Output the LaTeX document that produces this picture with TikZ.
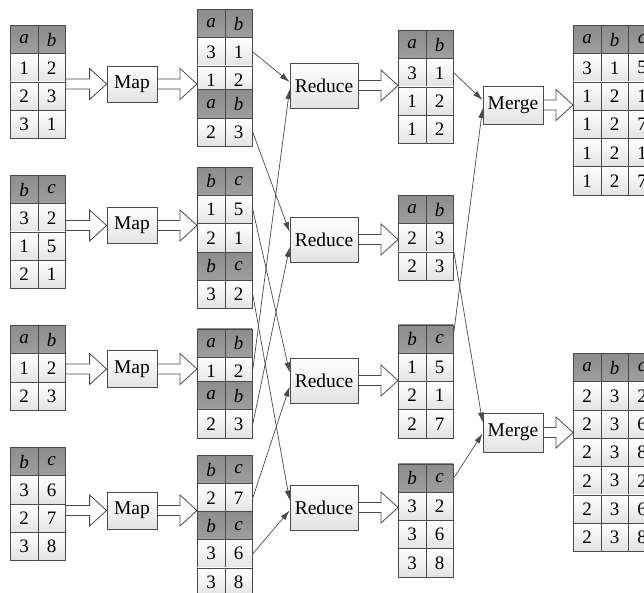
\documentclass[tikz,border=0pt]{standalone}
\usepackage{fontspec}
\setmainfont{Liberation Serif}
\usetikzlibrary{arrows.meta,calc}
\definecolor{edge}{HTML}{4A4A4A}
\tikzset{
 cellbase/.style={draw=edge, line width=0.8pt, minimum width=27.5pt, minimum height=28.3pt, inner sep=0pt, anchor=north west, font=\fontsize{19}{20}\selectfont},
 hd/.style={cellbase, top color=black!45, bottom color=black!38, font=\fontsize{19}{20}\selectfont\itshape},
 dt/.style={cellbase, top color=white, bottom color=black!11},
 proc/.style={draw=edge, line width=0.8pt, top color=white, bottom color=black!11, inner sep=0pt, font=\fontsize{19.5}{20}\selectfont},
 conn/.style={draw=edge, line width=0.7pt, -{Latex[length=10pt,width=6pt]}},
 hollow/.style={draw=edge, line width=0.8pt, fill=white, line join=miter},
}
\newcommand\trow[5]{\foreach \e [count=\i] in {#5} {\node[#2] (#1-\i) at ({#3+(\i-1)*27.5}, #4) {\e};}}
\newcommand\harrow[2]{\draw[hollow] let \p1=(#1), \p2=(#2) in (\x1,\y1+5pt) -- (\x2-17pt,\y1+5pt) -- (\x2-17pt,\y1+15.5pt) -- (\x2,\y1) -- (\x2-17pt,\y1-15.5pt) -- (\x2-17pt,\y1-5pt) -- (\x1,\y1-5pt) -- cycle;}
\begin{document}
\begin{tikzpicture}[x=1pt,y=-1pt]
\useasboundingbox (0,0) rectangle (644,593);
% ---------- input tables ----------
\trow{t1h}{hd}{10}{25}{a,b}
\trow{t1r1}{dt}{10}{53.3}{1,2}
\trow{t1r2}{dt}{10}{81.6}{2,3}
\trow{t1r3}{dt}{10}{109.9}{3,1}
\trow{t2h}{hd}{10}{175}{b,c}
\trow{t2r1}{dt}{10}{203.3}{3,2}
\trow{t2r2}{dt}{10}{231.6}{1,5}
\trow{t2r3}{dt}{10}{259.9}{2,1}
\trow{t3h}{hd}{10}{325}{a,b}
\trow{t3r1}{dt}{10}{353.3}{1,2}
\trow{t3r2}{dt}{10}{381.6}{2,3}
\trow{t4h}{hd}{10}{447}{b,c}
\trow{t4r1}{dt}{10}{475.3}{3,6}
\trow{t4r2}{dt}{10}{503.6}{2,7}
\trow{t4r3}{dt}{10}{531.9}{3,8}
% ---------- map boxes ----------
\node[proc, minimum width=50pt, minimum height=36pt] (map1) at (132,84) {Map};
\node[proc, minimum width=50pt, minimum height=36pt] (map2) at (132,225.5) {Map};
\node[proc, minimum width=50pt, minimum height=37pt] (map3) at (132,369) {Map};
\node[proc, minimum width=50pt, minimum height=37pt] (map4) at (132,510.5) {Map};
% ---------- map outputs ----------
\trow{m1h}{hd}{197}{9}{a,b}
\trow{m1r1}{dt}{197}{37.3}{3,1}
\trow{m1r2}{dt}{197}{65.6}{1,2}
\trow{m1h2}{hd}{197}{89.5}{a,b}
\trow{m1r3}{dt}{197}{117.8}{2,3}
\trow{m2h}{hd}{197}{166.8}{b,c}
\trow{m2r1}{dt}{197}{195.1}{1,5}
\trow{m2r2}{dt}{197}{223.4}{2,1}
\trow{m2h2}{hd}{197}{251.7}{b,c}
\trow{m2r3}{dt}{197}{280}{3,2}
\trow{m3h}{hd}{197}{328.5}{a,b}
\trow{m3r1}{dt}{197}{356.8}{1,2}
\trow{m3h2}{hd}{197}{381}{a,b}
\trow{m3r2}{dt}{197}{409.3}{2,3}
\trow{m4h}{hd}{197}{455}{b,c}
\trow{m4r1}{dt}{197}{483.3}{2,7}
\trow{m4h2}{hd}{197}{511.4}{b,c}
\trow{m4r2}{dt}{197}{539.2}{3,6}
\trow{m4r3}{dt}{197}{567.5}{3,8}
% ---------- reduce boxes ----------
\node[proc, minimum width=68pt, minimum height=45pt] (red1) at (324,85.5) {Reduce};
\node[proc, minimum width=68pt, minimum height=45pt] (red2) at (324,239.5) {Reduce};
\node[proc, minimum width=68pt, minimum height=45pt] (red3) at (324,380.5) {Reduce};
\node[proc, minimum width=68pt, minimum height=45pt] (red4) at (324,507.5) {Reduce};
% ---------- reduce outputs ----------
\trow{r1h}{hd}{398}{30}{a,b}
\trow{r1r1}{dt}{398}{58.3}{3,1}
\trow{r1r2}{dt}{398}{86.6}{1,2}
\trow{r1r3}{dt}{398}{114.9}{1,2}
\trow{r2h}{hd}{398}{195}{a,b}
\trow{r2r1}{dt}{398}{223.3}{2,3}
\trow{r2r2}{dt}{398}{251.6}{2,3}
\trow{r3h}{hd}{398}{324.5}{b,c}
\trow{r3r1}{dt}{398}{352.8}{1,5}
\trow{r3r2}{dt}{398}{381.1}{2,1}
\trow{r3r3}{dt}{398}{409.4}{2,7}
\trow{r4h}{hd}{398}{463.5}{b,c}
\trow{r4r1}{dt}{398}{491.8}{3,2}
\trow{r4r2}{dt}{398}{520.1}{3,6}
\trow{r4r3}{dt}{398}{548.4}{3,8}
% ---------- merge boxes ----------
\node[proc, minimum width=60pt, minimum height=38pt] (mer1) at (513,105) {Merge};
\node[proc, minimum width=60pt, minimum height=39pt] (mer2) at (513,432.5) {Merge};
% ---------- final tables ----------
\trow{f1h}{hd}{573}{25}{a,b,c}
\trow{f1r1}{dt}{573}{53.3}{3,1,5}
\trow{f1r2}{dt}{573}{81.6}{1,2,1}
\trow{f1r3}{dt}{573}{109.9}{1,2,7}
\trow{f1r4}{dt}{573}{138.2}{1,2,1}
\trow{f1r5}{dt}{573}{166.5}{1,2,7}
\trow{f2h}{hd}{573}{353}{a,b,c}
\trow{f2r1}{dt}{573}{381.3}{2,3,2}
\trow{f2r2}{dt}{573}{409.6}{2,3,6}
\trow{f2r3}{dt}{573}{437.9}{2,3,8}
\trow{f2r4}{dt}{573}{466.2}{2,3,2}
\trow{f2r5}{dt}{573}{494.5}{2,3,6}
\trow{f2r6}{dt}{573}{522.8}{2,3,8}
% ---------- hollow arrows ----------
\harrow{t1h-2.east |- map1.west}{map1.west}
\harrow{t2h-2.east |- map2.west}{map2.west}
\harrow{t3h-2.east |- map3.west}{map3.west}
\harrow{t4h-2.east |- map4.west}{map4.west}
\harrow{map1.east}{m1h-1.west |- map1.east}
\harrow{map2.east}{m2h-1.west |- map2.east}
\harrow{map3.east}{m3h-1.west |- map3.east}
\harrow{map4.east}{m4h-1.west |- map4.east}
\harrow{red1.east}{r1h-1.west |- red1.east}
\harrow{red2.east}{r2h-1.west |- red2.east}
\harrow{red3.east}{r3h-1.west |- red3.east}
\harrow{red4.east}{r4h-1.west |- red4.east}
\harrow{mer1.east}{f1h-1.west |- mer1.east}
\harrow{mer2.east}{f2h-1.west |- mer2.east}
% ---------- connectors ----------
\draw[conn] (m1r1-2.east) -- ($(red1.west)+(0,-3.5)$);
\draw[conn] ($(m3r1-2.east)+(0,-2)$) -- ($(red1.west)+(0,3.5)$);
\draw[conn] (m1r3-2.east) -- ($(red2.west)+(0,-7.5)$);
\draw[conn] (m3r2-2.east) -- ($(red2.west)+(0,7.5)$);
\draw[conn] (m2r1-2.east) -- ($(red3.west)+(0,-8)$);
\draw[conn] (m4r1-2.east) -- ($(red3.west)+(0,6)$);
\draw[conn] (m2r3-2.east) -- ($(red4.west)+(0,-7)$);
\draw[conn] (m4r2-2.east) -- ($(red4.west)+(0,3)$);
\draw[conn] (r1r1-2.east) -- ($(mer1.west)+(0,-5)$);
\draw[conn] ($(r3h-2.north east)+(0,8)$) -- ($(mer1.west)+(0,3)$);
\draw[conn] (r2r2-2.north east) -- ($(mer2.west)+(0,-10)$);
\draw[conn] (r4h-2.east) -- ($(mer2.west)+(0,1)$);
\end{tikzpicture}
\end{document}
